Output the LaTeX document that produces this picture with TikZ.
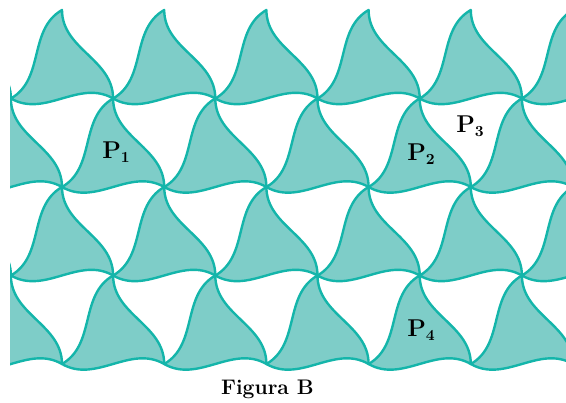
\documentclass[tikz,border=0pt]{standalone}
\usetikzlibrary{calc}
\definecolor{TileFill}{HTML}{7ECDC8}
\definecolor{TileLine}{HTML}{14B5AA}
\tikzset{
  tile/.style={fill=TileFill, draw=TileLine, line width=0.6mm, line join=round},
  plabel/.style={font=\fontsize{16}{18}\selectfont, inner sep=0pt, anchor=base west}
}

\begin{document}
\begin{tikzpicture}[x=0.25mm, y=0.25mm]
\useasboundingbox (0,0) rectangle (566,403);
% up-pointing tiles, band by band (apex row r, base row r+1)
\begin{scope}
\clip (10,0) rectangle (566,403);
\foreach \r in {0,...,3}{
  \foreach \k in {-1,...,6}{
    \pgfmathsetmacro\ax{62 - 51.1*mod(\r,2) + 102.2*\k}
    \pgfmathsetmacro\ay{393 - 88.5*\r}
    \coordinate (apex) at (\ax,\ay);
    \coordinate (bl) at (\ax-51.1,\ay-88.5);
    \coordinate (br) at (\ax+51.1,\ay-88.5);
    \draw[tile] (apex)
      .. controls ($(apex)!0.3849!-30:(bl)$) and ($(bl)!0.3849!-30:(apex)$) .. (bl)
      .. controls ($(bl)!0.3849!-30:(br)$) and ($(br)!0.3849!-30:(bl)$) .. (br)
      .. controls ($(br)!0.3849!-30:(apex)$) and ($(apex)!0.3849!-30:(br)$) .. (apex)
      -- cycle;
  }
}
\end{scope}
% labels
\node[plabel] (p1) at (102,244) {$\mathbf{P}_{\mathbf{1}}$};
\node[plabel] (p2) at (407,242) {$\mathbf{P}_{\mathbf{2}}$};
\node[plabel] (p3) at (456,270) {$\mathbf{P}_{\mathbf{3}}$};
\node[plabel] (p4) at (407,66) {$\mathbf{P}_{\mathbf{4}}$};
\node[font=\fontsize{15}{18}\selectfont\bfseries, anchor=base] (fig) at (267.5,8) {Figura B};
\end{tikzpicture}
\end{document}
